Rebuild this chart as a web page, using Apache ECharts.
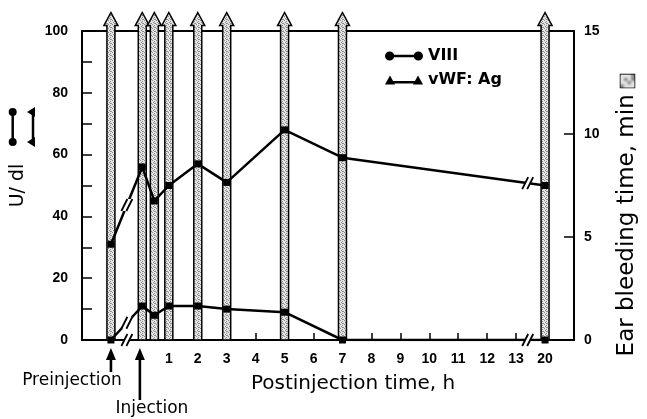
<!DOCTYPE html>
<html>
<head>
<meta charset="utf-8">
<script src="https://cdn.jsdelivr.net/npm/echarts@6/dist/echarts.min.js"></script>
<style>
html, body { margin: 0; padding: 0; background: #fff; }
#chart { width: 647px; height: 419px; }
</style>
</head>
<body>
<div id="chart"></div>
<script>
// sampling times: preinjection, 5 min, 30 min, 1, 2, 3, 5, 7 and 20 h
var timeNames = ['Pre', '5 min', '30 min', '1 h', '2 h', '3 h', '5 h', '7 h', '20 h'];
// position of each sample on the broken time axis (20 h sits right after 13 h)
var xPos = [-1, 0.083, 0.5, 1, 2, 3, 5, 7, 14];
var factorVIII = [31, 56, 45, 50, 57, 51, 68, 59, 50];
var vwfAg = [0, 11, 8, 11, 11, 10, 9, 0, 0];
// ear bleeding time: every value is > 15 min (drawn as arrows past the top)
var bleedTime = [15.9, 15.9, 15.9, 15.9, 15.9, 15.9, 15.9, 15.9, 15.9];

var hourTicks = [1, 2, 3, 4, 5, 6, 7, 8, 9, 10, 11, 12, 13];
var hourLabelPos = [1, 2, 3, 4, 5, 6, 7, 8, 9, 10, 11, 12, 13, 14];
var hourLabels = ['1', '2', '3', '4', '5', '6', '7', '8', '9', '10', '11', '12', '13', '20'];
var leftLabels = [0, 20, 40, 60, 80, 100];
var rightLabels = [0, 5, 10, 15];
var axisBreaks = [-0.45, 13.4];
var markerNames = ['Preinjection', 'Injection'];
var markerPos = [-1, 0];

var tickFont = 'Liberation Sans';
var titleFont = 'DejaVu Sans';

// stippled grey fill for the bleeding-time bars
var pat = document.createElement('canvas');
pat.width = 4; pat.height = 4;
var g = pat.getContext('2d');
g.fillStyle = '#e4e4e4';
g.fillRect(0, 0, 4, 4);
g.fillStyle = '#8c8c8c';
[[0, 0], [2, 1], [1, 2], [3, 3], [2, 3]].forEach(function (p) { g.fillRect(p[0], p[1], 1, 1); });

function pairs(xs, ys) {
    return xs.map(function (x, i) { return [x, ys[i]]; });
}

// value of a series at position bx (straight segment between its two neighbours)
function valueAt(ys, bx) {
    for (var i = 0; i < xPos.length - 1; i++) {
        if (bx >= xPos[i] && bx <= xPos[i + 1]) {
            return ys[i] + (ys[i + 1] - ys[i]) * (bx - xPos[i]) / (xPos[i + 1] - xPos[i]);
        }
    }
    return 0;
}

function renderBleed(params, api) {
    var base = api.coord([api.value(0), 0]);
    var tip = api.coord([api.value(0), api.value(1)]);
    var x = base[0], hw = 4, hh = 7, headH = 13;
    return {
        type: 'polygon',
        shape: {
            points: [[x - hw, base[1]], [x - hw, tip[1] + headH], [x - hh, tip[1] + headH], [x, tip[1]],
                [x + hh, tip[1] + headH], [x + hw, tip[1] + headH], [x + hw, base[1]]]
        },
        style: { fill: { image: pat, repeat: 'repeat' }, stroke: '#000', lineWidth: 1.5 }
    };
}

function breakMark(cx, cy) {
    var d = 2.5, sx = 3, sy = 6;
    return [{
        type: 'polygon',
        shape: { points: [[cx - d - sx, cy + sy], [cx - d + sx, cy - sy], [cx + d + sx, cy - sy], [cx + d - sx, cy + sy]] },
        style: { fill: '#fff' }
    }, {
        type: 'line',
        shape: { x1: cx - d - sx, y1: cy + sy, x2: cx - d + sx, y2: cy - sy },
        style: { stroke: '#000', lineWidth: 1.8 }
    }, {
        type: 'line',
        shape: { x1: cx + d - sx, y1: cy + sy, x2: cx + d + sx, y2: cy - sy },
        style: { stroke: '#000', lineWidth: 1.8 }
    }];
}

function renderBreak(params, api) {
    var bx = api.value(0);
    var kids = [];
    var a = api.coord([bx, 0]);
    kids = kids.concat(breakMark(a[0], a[1]));
    [factorVIII, vwfAg].forEach(function (ys) {
        var v = valueAt(ys, bx);
        if (v > 0.5) {
            var p = api.coord([bx, v]);
            kids = kids.concat(breakMark(p[0], p[1]));
        }
    });
    return { type: 'group', children: kids };
}

function renderMarker(params, api) {
    var i = params.dataIndex;
    var p = api.coord([api.value(0), 0]);
    var x = p[0], top = p[1] + 8;
    var end = i === 0 ? 372 : 400;
    return {
        type: 'group',
        children: [
            { type: 'polygon', shape: { points: [[x, top], [x - 5, top + 12], [x + 5, top + 12]] }, style: { fill: '#000' } },
            { type: 'rect', shape: { x: x - 1.3, y: top + 10, width: 2.6, height: end - top - 10 }, style: { fill: '#000' } },
            {
                type: 'text',
                style: {
                    text: markerNames[i], x: i === 0 ? x - 39 : x + 12, y: i === 0 ? 381 : 409,
                    align: 'center', verticalAlign: 'middle',
                    font: '17px "' + titleFont + '"', fill: '#000'
                }
            }
        ]
    };
}

var myChart = echarts.init(document.getElementById('chart'));

var iconVIII = 'path://M0.5,5A4.5,4.5,0,1,1,9.5,5A4.5,4.5,0,1,1,0.5,5Z M9,3.8L29,3.8L29,6.2L9,6.2Z M28.5,5A4.5,4.5,0,1,1,37.5,5A4.5,4.5,0,1,1,28.5,5Z';
var iconVWF = 'path://M0,10L5,1L10,10Z M8,6.5L30,6.5L30,9L8,9Z M28,10L33,1L38,10Z';

var option = {
    animation: false,
    grid: { left: 82, right: 69, top: 31, bottom: 79 },
    legend: {
        orient: 'vertical',
        left: 385,
        top: 48,
        itemWidth: 38,
        itemHeight: 10,
        itemGap: 8,
        padding: 0,
        data: [{ name: 'VIII', icon: iconVIII }, { name: 'vWF: Ag', icon: iconVWF }],
        textStyle: { fontFamily: titleFont, fontWeight: 'bold', fontSize: 16, color: '#000' }
    },
    xAxis: [{
        type: 'value',
        min: -2,
        max: 15,
        position: 'bottom',
        splitLine: { show: false },
        axisLine: { onZero: false, lineStyle: { color: '#000', width: 2 } },
        axisTick: { inside: true, length: 7, customValues: hourTicks, lineStyle: { color: '#000', width: 1.5 } },
        axisLabel: {
            customValues: hourLabelPos,
            margin: 12,
            formatter: function (v) { return hourLabels[hourLabelPos.indexOf(v)]; },
            fontFamily: tickFont, fontWeight: 'bold', fontSize: 14, color: '#000'
        },
        name: 'Postinjection time, h',
        nameLocation: 'middle',
        nameGap: 34,
        nameTextStyle: { fontFamily: titleFont, fontSize: 20, color: '#000', padding: [0, 0, 0, 50] }
    }, {
        type: 'value',
        min: -2,
        max: 15,
        position: 'top',
        splitLine: { show: false },
        axisLine: { onZero: false, lineStyle: { color: '#000', width: 2 } },
        axisTick: { show: false },
        axisLabel: { show: false }
    }],
    yAxis: [{
        type: 'value',
        min: 0,
        max: 100,
        interval: 10,
        position: 'left',
        splitLine: { show: false },
        axisLine: { show: true, onZero: false, lineStyle: { color: '#000', width: 2 } },
        axisTick: { show: true, inside: true, length: 10, lineStyle: { color: '#000', width: 1.5 } },
        axisLabel: { customValues: leftLabels, margin: 14, fontFamily: tickFont, fontWeight: 'bold', fontSize: 14, color: '#000' },
        name: 'U/ dl',
        nameLocation: 'middle',
        nameGap: 54,
        nameTextStyle: { fontFamily: titleFont, fontSize: 19, color: '#000' }
    }, {
        type: 'value',
        min: 0,
        max: 15,
        interval: 5,
        position: 'right',
        splitLine: { show: false },
        axisLine: { show: true, onZero: false, lineStyle: { color: '#000', width: 2 } },
        axisTick: { show: true, inside: true, length: 10, lineStyle: { color: '#000', width: 1.5 } },
        axisLabel: { customValues: rightLabels, margin: 10, fontFamily: tickFont, fontWeight: 'bold', fontSize: 14, color: '#000' },
        name: '{t|Ear bleeding time, min}  {b|}',
        nameLocation: 'middle',
        nameGap: 42,
        nameRotate: 90,
        nameTextStyle: {
            color: '#000',
            padding: [0, 60, 0, 0],
            rich: {
                t: { fontFamily: titleFont, fontSize: 23, color: '#000' },
                b: { width: 13, height: 14, borderColor: '#000', borderWidth: 1.5, backgroundColor: { image: pat, repeat: 'repeat' } }
            }
        }
    }],
    graphic: [
        { type: 'line', shape: { x1: 12.7, y1: 112, x2: 12.7, y2: 142 }, style: { stroke: '#000', lineWidth: 2.5 } },
        { type: 'circle', shape: { cx: 12.7, cy: 112, r: 4 }, style: { fill: '#000' } },
        { type: 'circle', shape: { cx: 12.7, cy: 142, r: 4 }, style: { fill: '#000' } },
        { type: 'line', shape: { x1: 33, y1: 111, x2: 33, y2: 143 }, style: { stroke: '#000', lineWidth: 2.5 } },
        { type: 'polygon', shape: { points: [[27, 112], [35, 107], [35, 117]] }, style: { fill: '#000' } },
        { type: 'polygon', shape: { points: [[27, 142], [35, 137], [35, 147]] }, style: { fill: '#000' } }
    ],
    series: [{
        name: 'Ear bleeding time',
        type: 'custom',
        xAxisIndex: 0,
        yAxisIndex: 1,
        z: 2,
        clip: false,
        renderItem: renderBleed,
        data: pairs(xPos, bleedTime)
    }, {
        name: 'VIII',
        type: 'line',
        xAxisIndex: 0,
        yAxisIndex: 0,
        z: 3,
        symbol: 'rect',
        symbolSize: 7,
        lineStyle: { color: '#000', width: 2.5 },
        itemStyle: { color: '#000' },
        data: pairs(xPos, factorVIII)
    }, {
        name: 'vWF: Ag',
        type: 'line',
        xAxisIndex: 0,
        yAxisIndex: 0,
        z: 3,
        symbol: 'rect',
        symbolSize: 7,
        lineStyle: { color: '#000', width: 2.5 },
        itemStyle: { color: '#000' },
        data: pairs(xPos, vwfAg)
    }, {
        name: 'breaks',
        type: 'custom',
        xAxisIndex: 0,
        yAxisIndex: 0,
        z: 5,
        clip: false,
        renderItem: renderBreak,
        data: axisBreaks.map(function (b) { return [b, 0]; })
    }, {
        name: 'markers',
        type: 'custom',
        xAxisIndex: 0,
        yAxisIndex: 0,
        z: 5,
        clip: false,
        renderItem: renderMarker,
        data: markerPos.map(function (b) { return [b, 0]; })
    }]
};

myChart.setOption(option);
window.addEventListener('resize', function () { myChart.resize(); });
</script>
</body>
</html>
